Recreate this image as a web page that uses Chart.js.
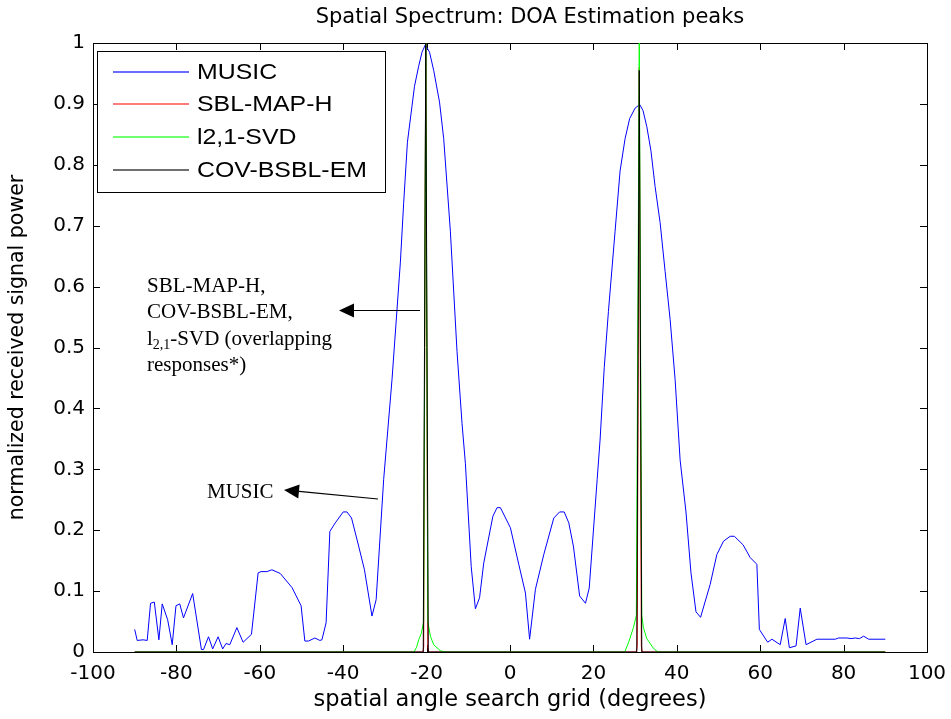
<!DOCTYPE html>
<html>
<head>
<meta charset="utf-8">
<title>Spatial Spectrum: DOA Estimation peaks</title>
<script src="https://cdn.jsdelivr.net/npm/chart.js@4.4.1/dist/chart.umd.min.js"></script>
<style>
  html, body { margin: 0; padding: 0; background: #fff; }
  #wrap { width: 951px; height: 719px; }
</style>
</head>
<body>
<div id="wrap"><canvas id="doaChart" width="951" height="719"></canvas></div>
<script>
// MUSIC pseudo-spectrum (angle in degrees, normalized power)
const musicAngle = [
  -90, -89.4, -88, -87, -86.2, -85.3, -84.2, -83.4, -82.1, -81, -80.1, -79.2, -78.3, -76.1,
  -74, -73.5, -72.3, -71.3, -70, -68.9, -68.1, -67.2, -65.5, -64, -62, -60.4, -59.7, -58.3,
  -57.1, -55.1, -52.3, -50.1, -49.2, -48.3, -46.8, -45.6, -45.1, -44.1, -43.2, -41.9, -40,
  -39.1, -38, -36.3, -34.9, -33.1, -32.1, -30.3, -28.3, -26.3, -25.5, -24.6, -22.9, -21.9,
  -21.1, -20.3, -19.3, -18.3, -16.9, -15.9, -14.3, -12.7, -11.5, -10.7, -9.3, -8.3, -7.3,
  -6.3, -4.1, -3.1, -2.3, 0.1, 2.1, 3.7, 4.7, 6.1, 8.1, 10.5, 11.9, 13, 14.1, 15.2, 16.7,
  18.1, 19, 20.9, 21.6, 22.6, 23.6, 25.2, 26.4, 27.6, 28.7, 30, 31.1, 31.9, 32.8, 33.8,
  34.8, 36, 37.2, 38.4, 39.6, 40.8, 42.2, 43.4, 44.6, 45.7, 48, 49.6, 51.2, 52.8, 53.8,
  55.9, 57.6, 59.2, 59.8, 61.8, 62.8, 64.8, 66, 67, 68.6, 69.6, 71, 73.6, 78, 78.8, 80.8,
  81.8, 82.8, 83.8, 84.8, 86, 90
];
const musicPower = [
  0.037, 0.019, 0.02, 0.019, 0.08, 0.082, 0.02, 0.079, 0.053, 0.012, 0.076, 0.079, 0.056, 0.096,
  0.004, 0.004, 0.025, 0.005, 0.025, 0.005, 0.014, 0.012, 0.04, 0.016, 0.029, 0.13, 0.132, 0.132,
  0.135, 0.129, 0.106, 0.076, 0.018, 0.018, 0.023, 0.019, 0.02, 0.048, 0.198, 0.212, 0.23,
  0.23, 0.22, 0.174, 0.135, 0.059, 0.086, 0.283, 0.447, 0.639, 0.737, 0.837, 0.929, 0.962,
  0.985, 0.997, 0.985, 0.955, 0.903, 0.843, 0.691, 0.493, 0.375, 0.31, 0.14, 0.071, 0.089,
  0.146, 0.223, 0.237, 0.237, 0.204, 0.144, 0.097, 0.021, 0.103, 0.16, 0.22, 0.23, 0.23, 0.212, 0.174, 0.092,
  0.08, 0.105, 0.283, 0.348, 0.467, 0.559, 0.691, 0.79, 0.843, 0.876, 0.893, 0.899, 0.889, 0.863, 0.823,
  0.764, 0.705, 0.625, 0.546, 0.447, 0.315, 0.23, 0.13, 0.066, 0.057, 0.111, 0.16, 0.182, 0.19, 0.19,
  0.176, 0.155, 0.144, 0.037, 0.016, 0.021, 0.012, 0.055, 0.007, 0.01, 0.072, 0.012, 0.021, 0.021, 0.023, 0.023,
  0.022, 0.023, 0.022, 0.026, 0.021, 0.021
];

// SBL-MAP-H
const sblAngle = [-90, -20.9, -20.7, -20.2, -19.7, -19.5, 30.3, 30.5, 31, 31.5, 31.7, 90];
const sblPower = [0, 0, 0.008, 1, 0.008, 0, 0, 0.01, 0.96, 0.01, 0, 0];

// l2,1-SVD
const l21Angle = [
  -90, -23, -22.4, -21.9, -21.3, -20.7, -20.2, -19.7, -19.1, -18.3, -16.7, -15.5,
  27.5, 28.4, 29.6, 30.3, 31, 31.6, 32, 32.8, 34.4, 35.5, 90
];
const l21Power = [
  0, 0, 0.008, 0.02, 0.03, 0.05, 1, 0.05, 0.026, 0.012, 0.002, 0,
  0, 0.015, 0.04, 0.06, 1, 0.06, 0.04, 0.022, 0.006, 0, 0
];

// COV-BSBL-EM
const covAngle = [-90, -20.8, -20.2, -19.6, 30.4, 31, 31.6, 90];
const covPower = [0, 0, 1, 0, 0, 0.955, 0, 0];

const seriesNames = ["MUSIC", "SBL-MAP-H", "l2,1-SVD", "COV-BSBL-EM"];
const seriesColors = ["#0000ff", "#ff0000", "#00ff00", "#000000"];
const legendColors = ["#3b3bff", "#ff5050", "#40ff40", "#404040"];

const toPoints = (xs, ys) => xs.map((x, i) => ({ x: x, y: ys[i] }));

// box round the axes with inward ticks on all four sides
const frame = {
  id: "frame",
  beforeDatasetsDraw(chart) {
    const { ctx, chartArea: a, scales } = chart;
    const len = 7;
    ctx.save();
    ctx.strokeStyle = "#000";
    ctx.lineWidth = 1;
    ctx.strokeRect(a.left + 0.5, a.top + 0.5, a.right - a.left, a.bottom - a.top);
    ctx.beginPath();
    scales.x.ticks.forEach((t) => {
      const px = Math.round(scales.x.getPixelForValue(t.value)) + 0.5;
      ctx.moveTo(px, a.bottom);
      ctx.lineTo(px, a.bottom - len);
      ctx.moveTo(px, a.top);
      ctx.lineTo(px, a.top + len);
    });
    scales.y.ticks.forEach((t) => {
      const py = Math.round(scales.y.getPixelForValue(t.value)) + 0.5;
      ctx.moveTo(a.left, py);
      ctx.lineTo(a.left + len, py);
      ctx.moveTo(a.right, py);
      ctx.lineTo(a.right - len, py);
    });
    ctx.stroke();
    ctx.restore();
  },
};

function arrow(ctx, x1, y1, x2, y2) {
  const ang = Math.atan2(y2 - y1, x2 - x1);
  const hl = 15, hw = 7;
  const bx = x2 - hl * Math.cos(ang), by = y2 - hl * Math.sin(ang);
  ctx.beginPath();
  ctx.moveTo(x1, y1);
  ctx.lineTo(bx, by);
  ctx.stroke();
  ctx.beginPath();
  ctx.moveTo(x2, y2);
  ctx.lineTo(bx + hw * Math.sin(ang), by - hw * Math.cos(ang));
  ctx.lineTo(bx - hw * Math.sin(ang), by + hw * Math.cos(ang));
  ctx.closePath();
  ctx.fill();
}

// title, legend box in the upper left corner, arrow notes
const notes = {
  id: "notes",
  afterDraw(chart) {
    const { ctx } = chart;
    ctx.save();

    ctx.fillStyle = "#000";
    ctx.font = "21px 'DejaVu Sans'";
    ctx.textAlign = "center";
    ctx.textBaseline = "middle";
    ctx.fillText("Spatial Spectrum: DOA Estimation peaks", 530, 18);

    // legend
    ctx.fillStyle = "#fff";
    ctx.fillRect(97, 51, 288, 141);
    ctx.strokeStyle = "#000";
    ctx.lineWidth = 1;
    ctx.strokeRect(97.5, 51.5, 288, 141);
    const rows = [72, 104, 137, 170];
    chart.data.datasets.forEach((ds, i) => {
      ctx.strokeStyle = legendColors[i];
      ctx.lineWidth = 1.6;
      ctx.beginPath();
      ctx.moveTo(113, rows[i]);
      ctx.lineTo(189, rows[i]);
      ctx.stroke();
      ctx.save();
      ctx.translate(197, rows[i] + 1);
      ctx.scale(1.13, 1);
      ctx.fillStyle = "#000";
      ctx.font = "22px 'Liberation Sans', Arial, sans-serif";
      ctx.textAlign = "left";
      ctx.textBaseline = "middle";
      ctx.fillText(ds.label, 0, 0);
      ctx.restore();
    });

    // notes
    const serif = "'Liberation Serif', 'Times New Roman', serif";
    const x0 = 147;
    ctx.fillStyle = "#000";
    ctx.strokeStyle = "#000";
    ctx.font = "21px " + serif;
    ctx.textBaseline = "middle";
    ctx.textAlign = "left";
    ctx.fillText("SBL-MAP-H,", x0, 286);
    ctx.fillText("COV-BSBL-EM,", x0, 312);
    ctx.fillText("l", x0, 339);
    let w = ctx.measureText("l").width;
    ctx.font = "14px " + serif;
    ctx.fillText("2,1", x0 + w, 345);
    w += ctx.measureText("2,1").width;
    ctx.font = "21px " + serif;
    ctx.fillText("-SVD (overlapping", x0 + w, 339);
    ctx.fillText("responses*)", x0, 365);
    ctx.fillText("MUSIC", 207, 492);

    ctx.lineWidth = 1.2;
    arrow(ctx, 420, 310.5, 339, 310.5);
    arrow(ctx, 378, 499, 284, 490);
    ctx.restore();
  },
};

const ctx = document.getElementById("doaChart").getContext("2d");
new Chart(ctx, {
  type: "line",
  data: {
    datasets: [
      { label: seriesNames[0], data: toPoints(musicAngle, musicPower), borderColor: seriesColors[0], order: 4 },
      { label: seriesNames[1], data: toPoints(sblAngle, sblPower), borderColor: seriesColors[1], order: 3 },
      { label: seriesNames[2], data: toPoints(l21Angle, l21Power), borderColor: seriesColors[2], order: 2 },
      { label: seriesNames[3], data: toPoints(covAngle, covPower), borderColor: seriesColors[3], order: 1 },
    ],
  },
  options: {
    responsive: false,
    animation: false,
    devicePixelRatio: 1,
    layout: { padding: { left: 0, right: 24, top: 43, bottom: 0 } },
    elements: {
      point: { radius: 0 },
      line: { borderWidth: 1, tension: 0, fill: false },
    },
    plugins: {
      legend: { display: false },
      tooltip: { enabled: false },
      title: { display: false },
    },
    scales: {
      x: {
        type: "linear",
        min: -100,
        max: 100,
        grid: { display: false, drawTicks: false },
        border: { display: false },
        ticks: {
          stepSize: 20,
          maxRotation: 0,
          padding: 10,
          color: "#000",
          font: { family: "'DejaVu Sans'", size: 20 },
        },
        title: {
          display: true,
          text: "spatial angle search grid (degrees)",
          color: "#000",
          font: { family: "'DejaVu Sans'", size: 22.5 },
          padding: { top: 0, bottom: 5 },
        },
        afterFit: (scale) => {
          scale.height = 67;
          scale.paddingLeft = 0;
          scale.paddingRight = 0;
        },
      },
      y: {
        min: 0,
        max: 1,
        grid: { display: false, drawTicks: false },
        border: { display: false },
        ticks: {
          stepSize: 0.1,
          padding: 8,
          color: "#000",
          font: { family: "'DejaVu Sans'", size: 20 },
          callback: (v) => String(Math.round(v * 10) / 10),
        },
        title: {
          display: true,
          text: "normalized received signal power",
          color: "#000",
          font: { family: "'DejaVu Sans'", size: 20.5 },
          padding: { top: 5, bottom: 0 },
        },
        afterFit: (scale) => {
          scale.width = 93;
          scale.paddingTop = 0;
          scale.paddingBottom = 0;
        },
      },
    },
  },
  plugins: [frame, notes],
});
</script>
</body>
</html>
